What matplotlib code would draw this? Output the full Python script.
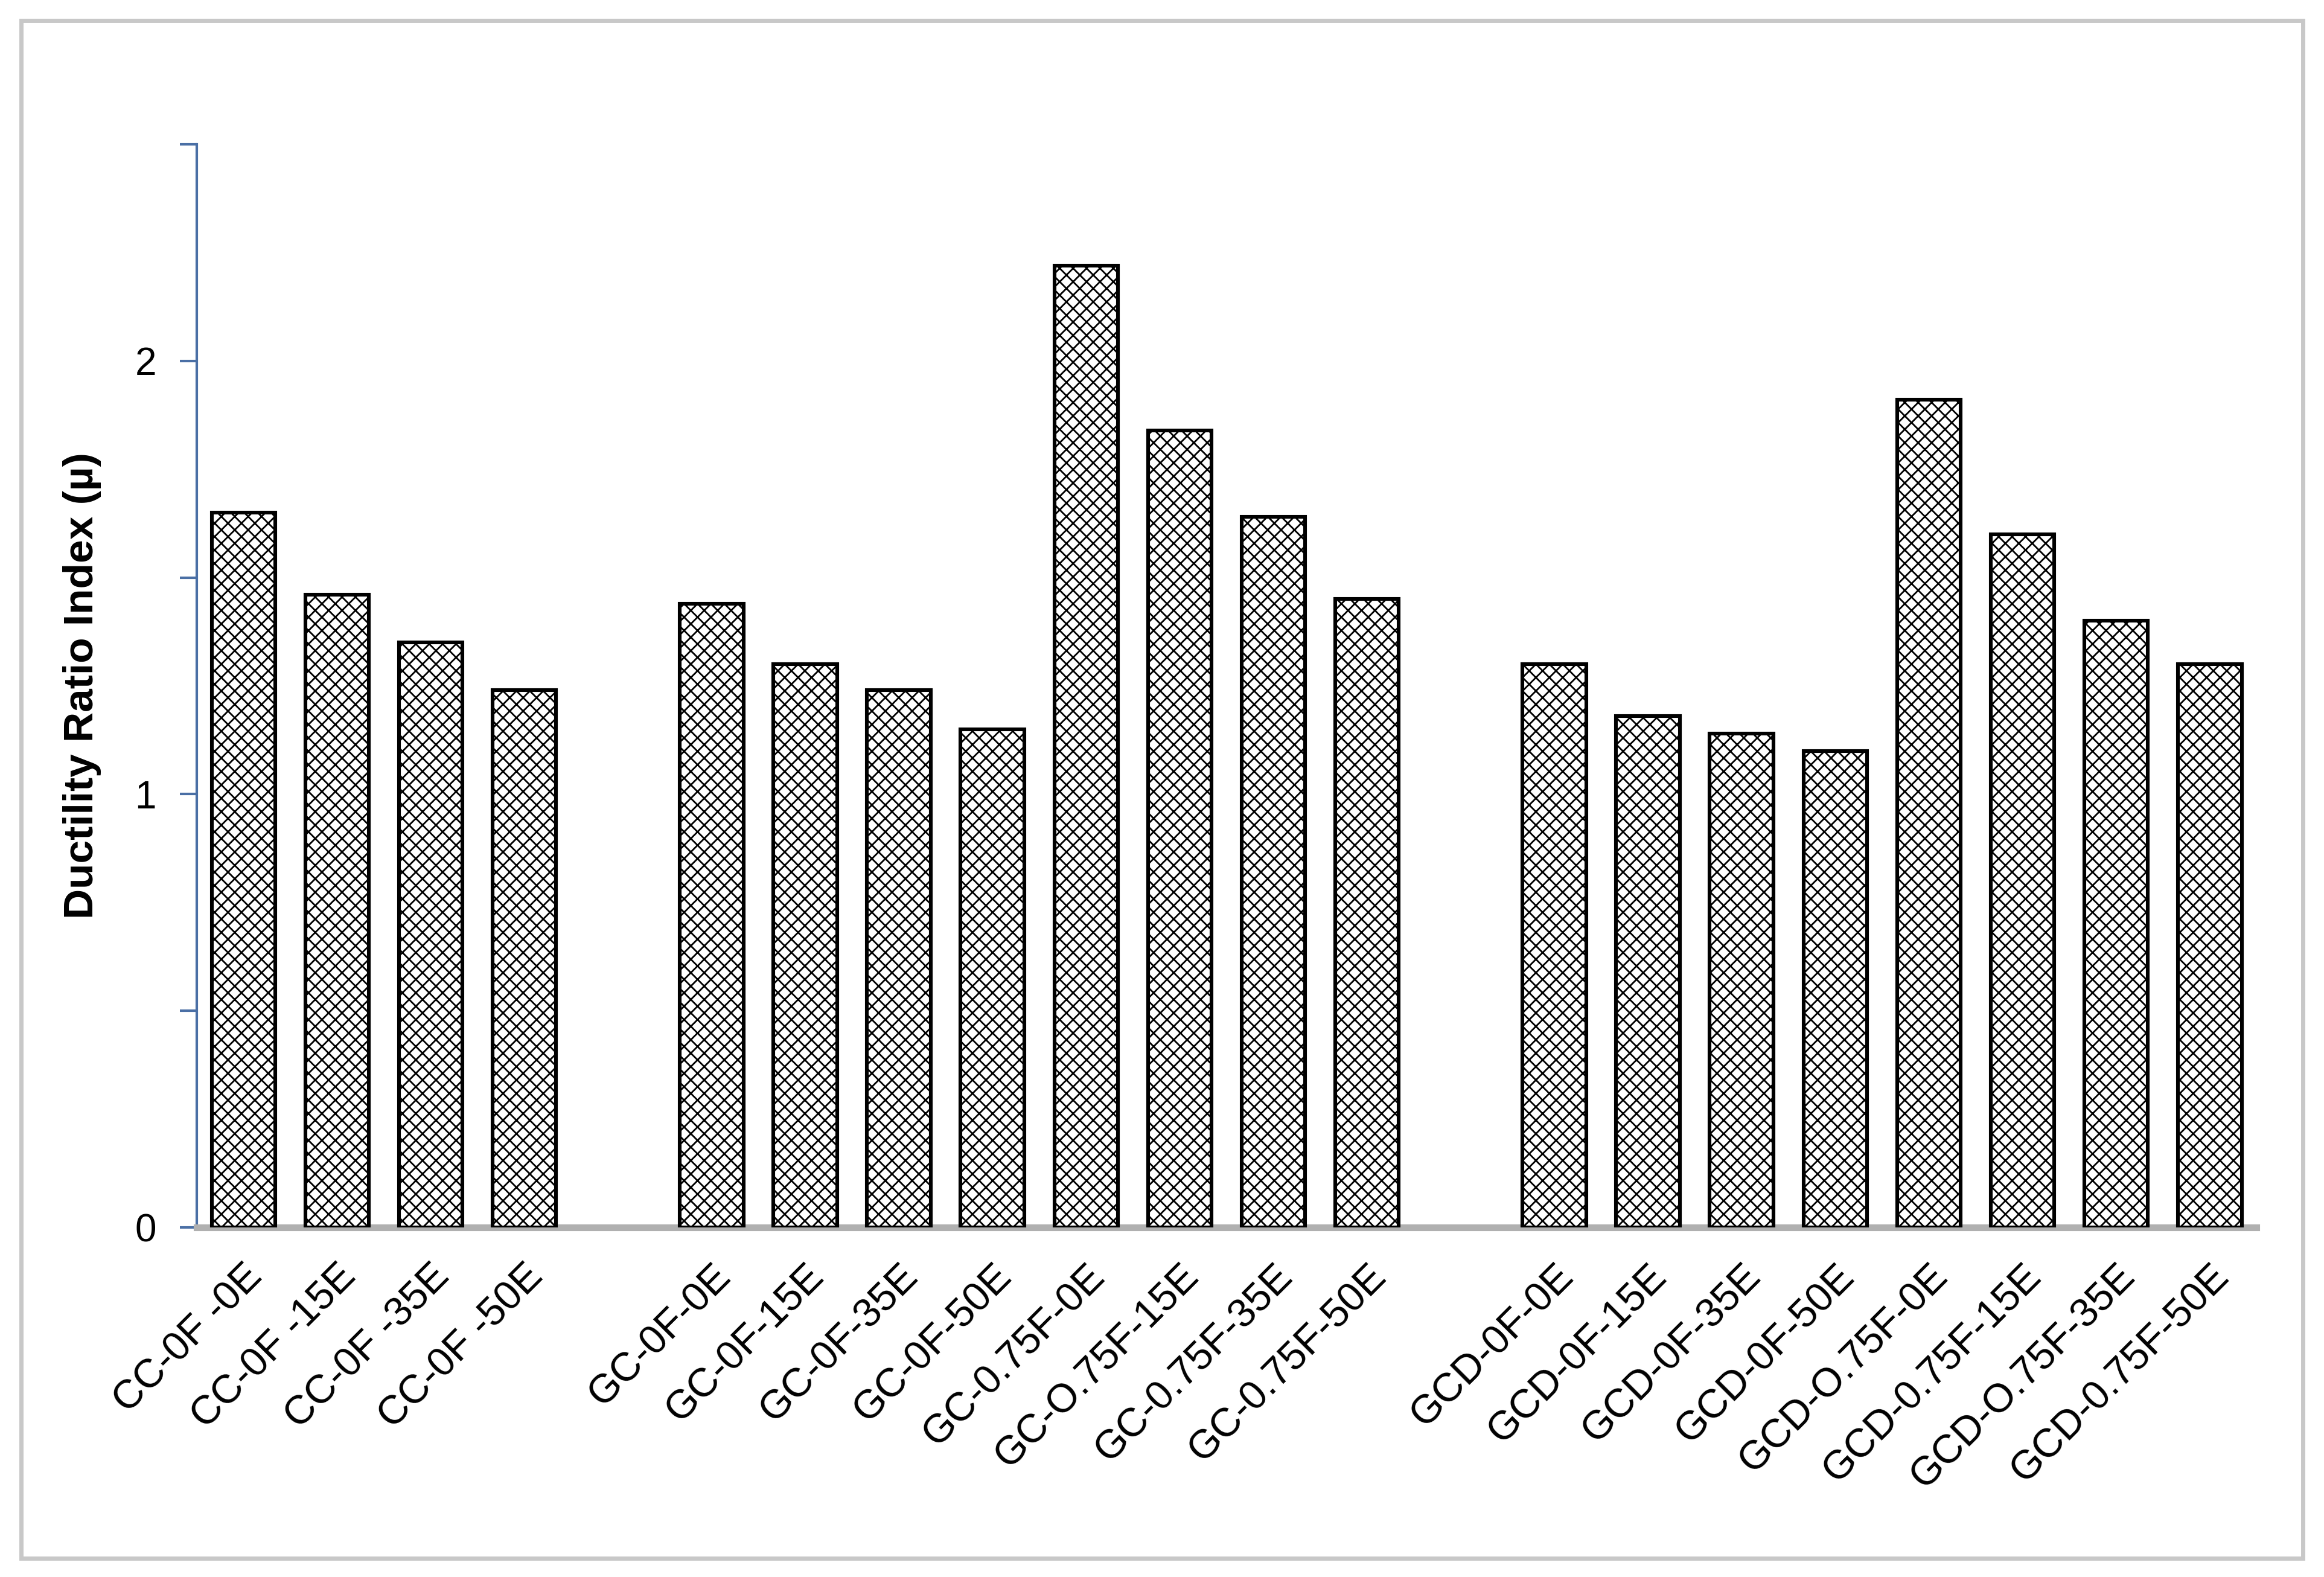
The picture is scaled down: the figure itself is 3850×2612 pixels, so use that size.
import matplotlib
matplotlib.use("Agg")
import matplotlib.pyplot as plt
from matplotlib.patches import Rectangle

labels = ['CC-0F -0E','CC-0F -15E','CC-0F -35E','CC-0F -50E',
          'GC-0F-0E','GC-0F-15E','GC-0F-35E','GC-0F-50E',
          'GC-0.75F-0E','GC-O.75F-15E','GC-0.75F-35E','GC-0.75F-50E',
          'GCD-0F-0E','GCD-0F-15E','GCD-0F-35E','GCD-0F-50E',
          'GCD-O.75F-0E','GCD-0.75F-15E','GCD-O.75F-35E','GCD-0.75F-50E']
values = [1.65, 1.46, 1.35, 1.24,
          1.44, 1.30, 1.24, 1.15, 2.22, 1.84, 1.64, 1.45,
          1.30, 1.18, 1.14, 1.10, 1.91, 1.60, 1.40, 1.30]
positions = list(range(0, 4)) + list(range(5, 13)) + list(range(14, 22))

plt.rcParams['hatch.linewidth'] = 1.0
fig = plt.figure(figsize=(19.25, 13.06), dpi=200)
fig.patches.append(Rectangle((0.009, 0.012), 0.982, 0.975, transform=fig.transFigure,
                             fill=False, edgecolor='#c8c8c8', linewidth=2.5))
ax = fig.add_axes([0.0846, 0.2217, 0.8864, 0.6868])
ax.bar(positions, values, width=0.68, color='white', edgecolor='black',
       linewidth=2.2, hatch='xxx', zorder=3)
ax.set_xlim(-0.5, 21.5)
ax.set_ylim(0, 2.5)
ax.set_yticks([0, 1, 2])
ax.set_yticks([0.5, 1.5, 2.5], minor=True)
ax.set_yticklabels(['0', '1', '2'], fontsize=23, family='Liberation Sans')
ax.tick_params(axis='y', which='both', direction='out', length=10, color='#4a6fa5', width=1.5, pad=14)
ax.set_xticks(positions)
ax.set_xticklabels(labels, rotation=45, ha='right', rotation_mode='anchor',
                   fontsize=24, family='Liberation Sans')
ax.tick_params(axis='x', length=0, pad=18)
for s in ['top', 'right']:
    ax.spines[s].set_visible(False)
ax.spines['left'].set_color('#4a6fa5')
ax.spines['left'].set_linewidth(1.5)
ax.spines['bottom'].set_color('#b0b0b0')
ax.spines['bottom'].set_linewidth(4)
ax.set_ylabel('Ductility Ratio Index (µ)', fontsize=25, fontweight='bold',
              family='Liberation Sans', labelpad=20)
fig.savefig('out.png', dpi=200)
